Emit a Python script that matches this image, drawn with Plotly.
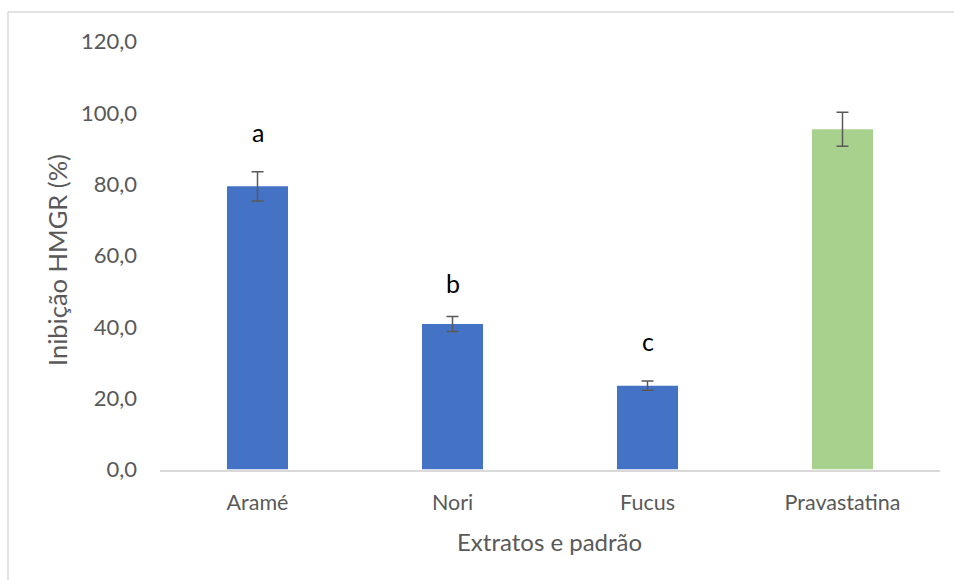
import plotly.graph_objects as go

# Inibição da HMG-CoA redutase por extratos de algas e pelo padrão
categorias = ["Aramé", "Nori", "Fucus", "Pravastatina"]
inibicao = [79.4, 40.8, 23.5, 95.4]
desvio = [4.1, 2.1, 1.3, 4.75]
letras = ["a", "b", "c", ""]

cores = ["#4472C4", "#4472C4", "#4472C4", "#A9D18E"]

W, H = 954, 580
x0, x1 = 160, 940      # plot area, px
y_top, y_bot = 41.5, 469.5

FONT = "Lato"
GRAY = "#595959"

fig = go.Figure()
fig.add_trace(go.Bar(
    x=categorias,
    y=inibicao,
    marker=dict(color=cores, line=dict(width=0)),
    error_y=dict(type="data", array=desvio, visible=True,
                 color=GRAY, thickness=1.5, width=6),
    hoverinfo="skip",
))

# letras de significância acima das barras
deslocamento = [15.1, 11.6, 12.6]
annotations = []
for cat, val, let, d in zip(categorias, inibicao, letras, deslocamento):
    if let:
        annotations.append(dict(
            x=cat, y=val + d, xref="x", yref="y", text=let, showarrow=False,
            font=dict(family=FONT, size=25, color="#000000"),
            xanchor="center", yanchor="middle",
        ))

annotations.append(dict(
    x=549 / W, y=1 - 541 / H, xref="paper", yref="paper",
    text="Extratos e padrão", showarrow=False,
    font=dict(family=FONT, size=24, color=GRAY),
    xanchor="center", yanchor="middle",
))
annotations.append(dict(
    x=57 / W, y=1 - 260 / H, xref="paper", yref="paper",
    text="Inibição HMGR (%)", showarrow=False, textangle=-90,
    font=dict(family=FONT, size=25.5, color=GRAY),
    xanchor="center", yanchor="middle",
))

fig.update_layout(
    width=W, height=H,
    margin=dict(l=0, r=0, t=0, b=0, pad=0, autoexpand=False),
    paper_bgcolor="white", plot_bgcolor="white",
    separators=",.",
    bargap=0.687,
    showlegend=False,
    annotations=annotations,
    shapes=[
        dict(type="line", xref="paper", yref="paper",
             x0=8 / W, x1=1.0, y0=1 - 12 / H, y1=1 - 12 / H,
             line=dict(color="#D9D9D9", width=1.5)),
        dict(type="line", xref="paper", yref="paper",
             x0=8 / W, x1=8 / W, y0=0, y1=1 - 12 / H,
             line=dict(color="#D9D9D9", width=1.5)),
    ],
    xaxis=dict(
        domain=[x0 / W, x1 / W],
        showline=True, linecolor="#D9D9D9", linewidth=1.5,
        showgrid=False, ticks="", zeroline=False, automargin=False,
        tickfont=dict(family=FONT, size=21.5, color=GRAY),
        ticklabelstandoff=13,
    ),
    yaxis=dict(
        domain=[1 - y_bot / H, 1 - y_top / H],
        range=[0, 120], tickvals=[0, 20, 40, 60, 80, 100, 120],
        tickformat=".1f", automargin=False,
        showline=False, showgrid=False, zeroline=False, ticks="",
        tickfont=dict(family=FONT, size=22, color=GRAY),
        ticklabelstandoff=22,
    ),
)

fig.write_html("out.html")
